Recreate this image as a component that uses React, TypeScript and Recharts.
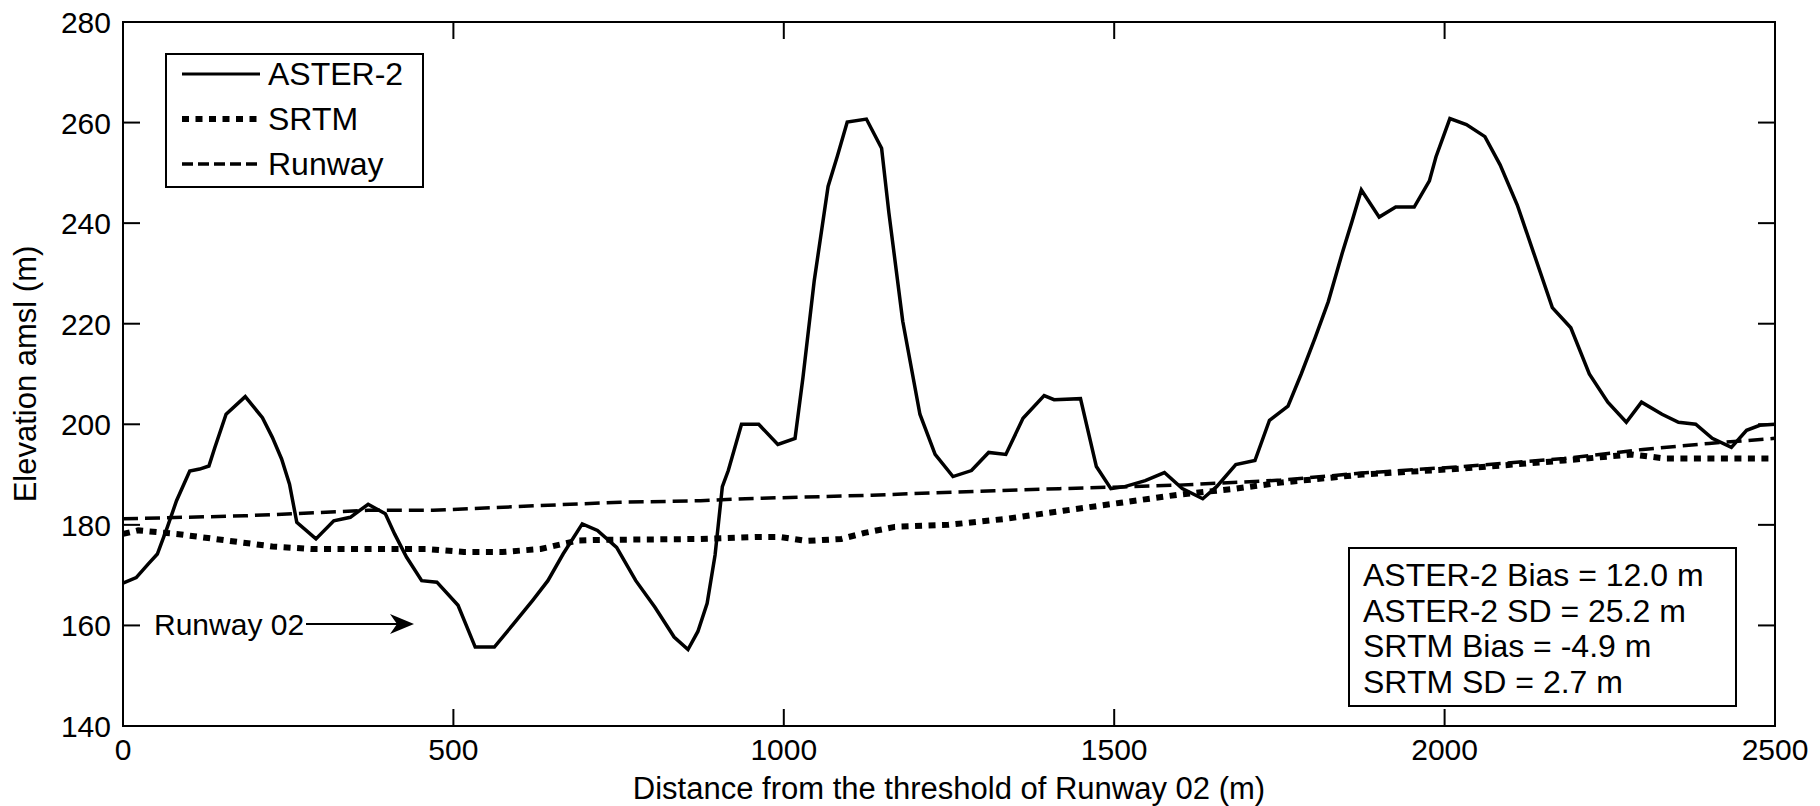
import React from 'react';
import { LineChart, Line, XAxis, YAxis, ReferenceArea } from 'recharts';

const asterDist = [
  0, 20, 38, 52, 67, 81, 101, 116, 130, 139, 156, 185, 211, 226, 240, 252, 263, 292, 319, 344,
  371, 397, 411, 429, 452, 475, 507, 533, 562, 591, 620, 643, 666, 695, 718, 747, 776, 805, 834, 855,
  870, 884, 896, 907, 916, 936, 962, 991, 1017, 1029, 1046, 1067, 1081, 1096, 1125, 1148, 1159, 1180, 1206, 1229,
  1256, 1284, 1310, 1336, 1362, 1394, 1409, 1449, 1473, 1495, 1516, 1547, 1576, 1603, 1634, 1655, 1684, 1713, 1735, 1763,
  1783, 1804, 1824, 1845, 1860, 1874, 1901, 1926, 1954, 1977, 1987, 2008, 2033, 2061, 2084, 2110, 2135, 2163, 2191, 2219,
  2247, 2275, 2298, 2329, 2354, 2380, 2405, 2434, 2457, 2477, 2500,
];
const asterElev = [
  168.4, 169.5, 172.2, 174.2, 179.5, 184.8, 190.7, 191.1, 191.7, 195.4, 202.0, 205.5, 201.3, 197.4, 193.1, 188.1, 180.5, 177.2, 180.8, 181.5,
  184.1, 182.2, 178.2, 173.6, 168.9, 168.6, 164.0, 155.7, 155.7, 160.3, 165.0, 168.9, 174.2, 180.2, 178.9, 175.5, 168.9, 163.6, 157.7, 155.2,
  158.8, 164.4, 174.0, 187.6, 190.8, 200.0, 200.0, 196.0, 197.2, 209.3, 228.5, 247.3, 253.3, 260.1, 260.7, 254.9, 242.1, 220.5, 202.0, 194.0,
  189.6, 190.8, 194.4, 194.0, 201.2, 205.7, 204.9, 205.1, 191.6, 187.2, 187.6, 188.8, 190.4, 187.2, 185.2, 187.6, 192.0, 192.8, 200.8, 203.6,
  210.0, 217.2, 224.4, 234.0, 240.4, 246.6, 241.2, 243.2, 243.2, 248.4, 253.2, 260.8, 259.6, 257.2, 251.6, 243.6, 234.0, 223.2, 219.2, 210.0,
  204.4, 200.4, 204.4, 202.0, 200.4, 200.0, 197.2, 195.4, 198.8, 199.8, 200.0,
];

const srtmDist = [
  0, 23, 81, 139, 197, 226, 284, 400, 458, 516, 574, 632, 689, 718, 874, 959, 994, 1035, 1087, 1122,
  1168, 1249, 1336, 1423, 1510, 1597, 1684, 1752, 1875, 2028, 2181, 2283, 2334, 2500,
];
const srtmElev = [
  178.2, 178.9, 178.2, 177.2, 176.2, 175.7, 175.2, 175.2, 175.2, 174.6, 174.6, 175.2, 176.9, 177.0, 177.2, 177.6, 177.6, 176.8, 177.2, 178.4,
  179.6, 180.0, 181.2, 182.8, 184.4, 186.0, 187.2, 188.4, 190.0, 191.2, 192.8, 194.0, 193.2, 193.2,
];

const runwayDist = [0, 185, 371, 469, 660, 753, 874, 942, 1133, 1319, 1417, 1498, 1597, 1752, 1875, 2028, 2181, 2300, 2400, 2500];
const runwayElev = [181.2, 181.8, 182.9, 182.9, 184.0, 184.5, 184.8, 185.2, 185.9, 186.8, 187.2, 187.5, 187.9, 188.9, 190.3, 191.6, 193.2, 195.0, 196.2, 197.2];

const xTicks = [0, 500, 1000, 1500, 2000, 2500];
const yTicks = [140, 160, 180, 200, 220, 240, 260, 280];

const statsLines = [
  'ASTER-2 Bias = 12.0 m',
  'ASTER-2 SD = 25.2 m',
  'SRTM Bias = -4.9 m',
  'SRTM SD = 2.7 m',
];

const toPoints = (xs: number[], ys: number[]) => xs.map((x, i) => ({ x, y: ys[i] }));

const series = [
  { name: 'ASTER-2', data: toPoints(asterDist, asterElev), width: 3.5, dash: undefined as string | undefined },
  { name: 'SRTM', data: toPoints(srtmDist, srtmElev), width: 6, dash: '7 6.5' },
  { name: 'Runway', data: toPoints(runwayDist, runwayElev), width: 3.5, dash: '15 7' },
];

const FONT = '"Liberation Sans", Arial, Helvetica, sans-serif';
const W = 1820;
const H = 806;
const PLOT_LEFT = 123;
const PLOT_RIGHT = 1775;
const PLOT_TOP = 22;
const PLOT_BOTTOM = 726;
const TICK = 17;

function XTick(props: any) {
  const { x, payload } = props;
  return (
    <g>
      <line x1={x} x2={x} y1={PLOT_BOTTOM} y2={PLOT_BOTTOM - TICK} stroke="#000" strokeWidth={2} />
      <line x1={x} x2={x} y1={PLOT_TOP} y2={PLOT_TOP + TICK} stroke="#000" strokeWidth={2} />
      <text x={x} y={760} textAnchor="middle" fontSize={30} fontFamily={FONT} fill="#000">
        {payload.value}
      </text>
    </g>
  );
}

function YTick(props: any) {
  const { y, payload } = props;
  return (
    <g>
      <line x1={PLOT_LEFT} x2={PLOT_LEFT + TICK} y1={y} y2={y} stroke="#000" strokeWidth={2} />
      <line x1={PLOT_RIGHT - TICK} x2={PLOT_RIGHT} y1={y} y2={y} stroke="#000" strokeWidth={2} />
      <text x={111} y={y + 11} textAnchor="end" fontSize={30} fontFamily={FONT} fill="#000">
        {payload.value}
      </text>
    </g>
  );
}

export default function App() {
  return (
    <div style={{ position: 'absolute', left: 0, top: 0, width: W, height: H, background: '#fff' }}>
      <LineChart width={W} height={H} margin={{ top: PLOT_TOP, right: W - PLOT_RIGHT, bottom: 0, left: 0 }}>
        <XAxis
          type="number"
          dataKey="x"
          domain={[0, 2500]}
          ticks={xTicks}
          height={H - PLOT_BOTTOM}
          axisLine={false}
          tickLine={false}
          tick={<XTick />}
          interval={0}
          label={{
            content: (p: any) => (
              <text
                x={p.viewBox.x + p.viewBox.width / 2}
                y={799}
                textAnchor="middle"
                fontSize={31}
                fontFamily={FONT}
                fill="#000"
              >
                Distance from the threshold of Runway 02 (m)
              </text>
            ),
          }}
        />
        <YAxis
          type="number"
          dataKey="y"
          domain={[140, 280]}
          ticks={yTicks}
          width={PLOT_LEFT}
          axisLine={false}
          tickLine={false}
          tick={<YTick />}
          interval={0}
          label={{
            content: (p: any) => {
              const cy = p.viewBox.y + p.viewBox.height / 2;
              return (
                <text
                  x={36}
                  y={cy}
                  transform={`rotate(-90 36 ${cy})`}
                  textAnchor="middle"
                  fontSize={31}
                  fontFamily={FONT}
                  fill="#000"
                >
                  Elevation amsl (m)
                </text>
              );
            },
          }}
        />
        <ReferenceArea x1={0} x2={2500} y1={140} y2={280} fill="none" stroke="#000" strokeWidth={2} />
        {series
          .slice()
          .reverse()
          .map((s) => (
            <Line
              key={s.name}
              data={s.data}
              dataKey="y"
              type="linear"
              stroke="#000"
              strokeWidth={s.width}
              strokeDasharray={s.dash}
              dot={false}
              activeDot={false}
              isAnimationActive={false}
            />
          ))}
      </LineChart>

      {/* legend, stats box, runway annotation */}
      <svg width={W} height={H} style={{ position: 'absolute', left: 0, top: 0, pointerEvents: 'none' }}>
        <rect x={166} y={54} width={257} height={133} fill="#fff" stroke="#000" strokeWidth={2} />
        {series.map((s, i) => {
          const cy = 74 + i * 45;
          return (
            <g key={s.name}>
              <line
                x1={182}
                x2={260}
                y1={cy}
                y2={cy}
                stroke="#000"
                strokeWidth={i === 0 ? 3 : s.width}
                strokeDasharray={i === 2 ? '11 5' : s.dash}
              />
              <text x={268} y={cy + 11} fontSize={32} fontFamily={FONT} fill="#000">
                {s.name}
              </text>
            </g>
          );
        })}

        <rect x={1349} y={548} width={387} height={158} fill="#fff" stroke="#000" strokeWidth={2} />
        {statsLines.map((t, i) => (
          <text key={t} x={1363} y={586 + i * 35.7} fontSize={32} fontFamily={FONT} fill="#000">
            {t}
          </text>
        ))}

        <text x={154} y={635} fontSize={30} fontFamily={FONT} fill="#000">
          Runway 02
        </text>
        <line x1={306} x2={404} y1={624} y2={624} stroke="#000" strokeWidth={2} />
        <polygon points="414,624 390,614 397,624 390,634" fill="#000" />
      </svg>
    </div>
  );
}
